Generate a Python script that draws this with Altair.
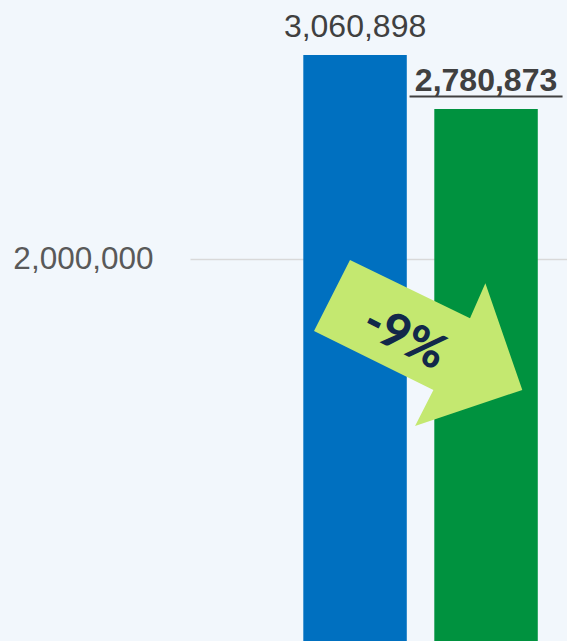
import altair as alt
import pandas as pd

# ---- data ----
categories = ["Previous", "Current"]
values = [3060898, 2780873]
value_labels = ["3,060,898", " 2,780,873"]
bar_colors = ["#0070c0", "#00923f"]
label_bold = [False, True]
axis_ticks = [2000000]
change_label = "-9%"
arrow_value = 1566000  # vertical anchor of the change arrow (data units)

df = pd.DataFrame({
    "cat": categories,
    "value": values,
    "label": value_labels,
    "color": bar_colors,
    "bold": label_bold,
})
arrow_df = pd.DataFrame({"cat": [categories[0]], "value": [arrow_value], "label": [change_label]})

x = alt.X("cat:N", sort=categories, axis=None,
          scale=alt.Scale(paddingInner=0.21, paddingOuter=0.544, align=0.795))
y_scale = alt.Scale(domain=[19000, 3346000], zero=False, nice=False)
y = alt.Y("value:Q", scale=y_scale,
          axis=alt.Axis(values=axis_ticks, labelExpr="format(datum.value, ',.0f')", title=None,
                        labelFontSize=31.5, labelFont="Liberation Sans", labelColor="#595959",
                        labelPadding=37, ticks=False, domain=False,
                        grid=True, gridColor="#d9d9d9", gridWidth=1.5))

base = alt.Chart(df)

bars = base.mark_bar(clip=True).encode(
    x=x, y=y, color=alt.Color("color:N", scale=None)
)

labels_regular = base.transform_filter("!datum.bold").mark_text(
    font="Liberation Sans", fontSize=32, color="#404040",
    baseline="alphabetic", align="center", yOffset=-18
).encode(x=x, y=y, text="label:N")

labels_bold = base.transform_filter("datum.bold").mark_text(
    font="Liberation Sans", fontSize=32, fontWeight="bold", color="#404040",
    baseline="alphabetic", align="center", yOffset=-17.5
).encode(x=x, y=y, text="label:N")

underline = base.transform_filter("datum.bold").mark_tick(
    orient="horizontal", size=153, thickness=2, color="#404040", opacity=1, yOffset=-12.5
).encode(x=x, y=y)

arrow_path = ("M-0.567,-0.692 L0.433,-0.206 L0.561,-0.497 L0.869,0.392 "
              "L-0.025,0.692 L0.128,0.392 L-0.867,-0.1 Z")
arrow = alt.Chart(arrow_df).mark_point(
    shape=arrow_path, size=57600, filled=True, color="#c4e870",
    opacity=1, strokeWidth=0, xOffset=63
).encode(x=x, y=y)

arrow_text = alt.Chart(arrow_df).mark_text(
    font="Lato", fontSize=48, fontWeight=900, color="#12284a",
    angle=27, align="center", baseline="middle", xOffset=49, yOffset=-4
).encode(x=x, y=y, text="label:N")

chart = alt.layer(bars, labels_regular, labels_bold, underline, arrow, arrow_text).properties(
    width=377, height=641,
    padding={"left": 190, "top": 0, "right": 0, "bottom": 0},
    autosize=alt.AutoSizeParams(type="none"),
    background="#f2f7fc",
).configure_view(strokeWidth=0)

chart.save("out.html", embed_options={"renderer": "svg", "actions": False})
